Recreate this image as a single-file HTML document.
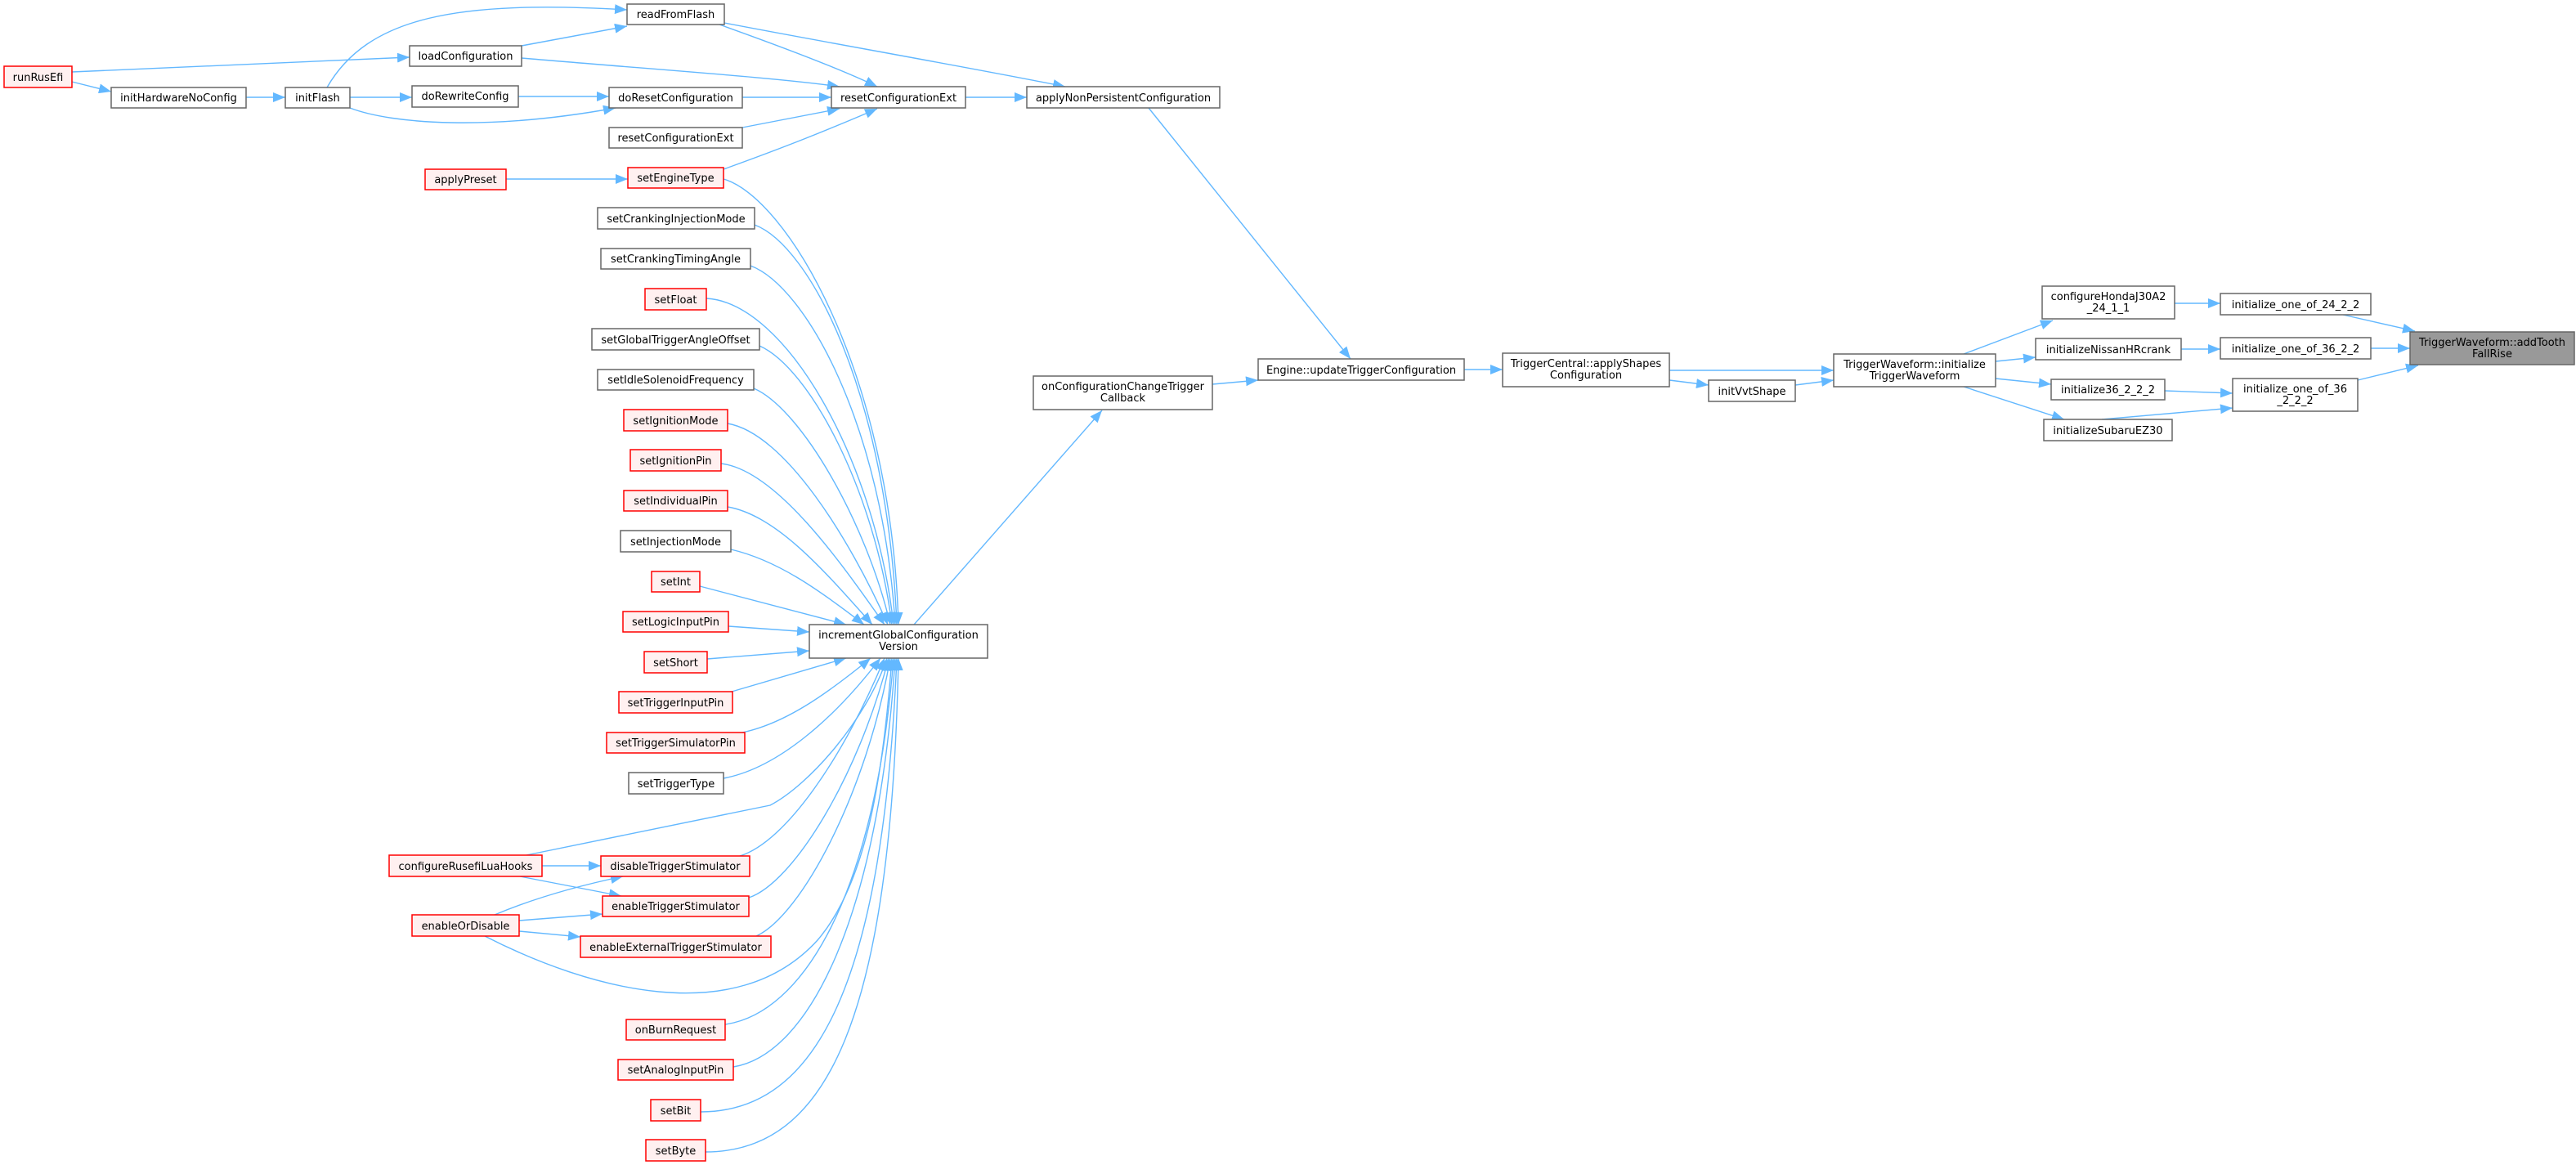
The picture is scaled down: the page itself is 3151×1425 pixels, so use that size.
<!DOCTYPE html>
<html><head><meta charset="utf-8"><style>
html,body{margin:0;padding:0;background:#fff;}
svg{display:block;}
text{font-family:"DejaVu Sans","Liberation Sans",sans-serif;font-size:13px;fill:#000;text-anchor:middle;}
.g{fill:#fff;stroke:#666;stroke-width:1.5;}
.r{fill:#fff0f0;stroke:#ff0000;stroke-width:1.5;}
.k{fill:#999;stroke:#666;stroke-width:1.5;}
.e{fill:none;stroke:#63b8ff;stroke-width:1.4;marker-end:url(#a);}
</style></head><body>
<svg width="3151" height="1425" viewBox="0 0 3151 1425" xmlns="http://www.w3.org/2000/svg">
<defs><marker id="a" markerUnits="userSpaceOnUse" markerWidth="16" markerHeight="12" refX="15" refY="6" orient="auto"><path d="M0,0 L15,6 L0,12 z" fill="#63b8ff"/></marker></defs>
<g>
<path class="e" d="M88,88 L501,70"/>
<path class="e" d="M88,100 L136,112"/>
<path class="e" d="M301,119 L349,119"/>
<path class="e" d="M400,107 C450,20 560,0 767,12"/>
<path class="e" d="M428,119 L504,119"/>
<path class="e" d="M428,132 C480,152 600,160 753,132"/>
<path class="e" d="M638,56 L767,32"/>
<path class="e" d="M634,118 L745,118"/>
<path class="e" d="M638,71 C800,85 950,95 1027,106"/>
<path class="e" d="M880,30 C950,55 1030,85 1073,106"/>
<path class="e" d="M886,28 C1000,50 1200,85 1303,106"/>
<path class="e" d="M908,119 L1017,119"/>
<path class="e" d="M908,156 L1027,133"/>
<path class="e" d="M885,207 C960,180 1010,160 1073,133"/>
<path class="e" d="M619,219 L768,219"/>
<path class="e" d="M1181,119 L1256,119"/>
<path class="e" d="M1405,132 L1652,439"/>
<path class="e" d="M1483,470 L1539,465"/>
<path class="e" d="M1791,452 L1838,452"/>
<path class="e" d="M2042,453 L2243,453"/>
<path class="e" d="M2042,465 L2090,471"/>
<path class="e" d="M2196,471 L2243,465"/>
<path class="e" d="M1118,764 L1348,502"/>
<path class="e" d="M2402,433 L2511,392"/>
<path class="e" d="M2441,442 L2490,437"/>
<path class="e" d="M2441,463 L2509,470"/>
<path class="e" d="M2402,473 L2525,513"/>
<path class="e" d="M2660,371 L2716,371"/>
<path class="e" d="M2668,427 L2716,427"/>
<path class="e" d="M2648,478 L2731,481"/>
<path class="e" d="M2571,513 L2731,499"/>
<path class="e" d="M2866,385 L2954,405"/>
<path class="e" d="M2900,426 L2948,426"/>
<path class="e" d="M2884,465 L2958,447"/>
<path class="e" d="M663,1059 L735,1059"/>
<path class="e" d="M636,1072 L760,1096"/>
<path class="e" d="M605,1119 C650,1100 700,1085 762,1072"/>
<path class="e" d="M635,1126 L737,1118"/>
<path class="e" d="M635,1139 L710,1146"/>
<!-- into incrementGlobalConfigurationVersion top -->
<path class="e" d="M885,219 C960,240 1090,450 1099,764"/>
<path class="e" d="M923,275 C990,300 1085,480 1097,764"/>
<path class="e" d="M918,325 C985,350 1080,520 1095,764"/>
<path class="e" d="M864,365 C960,370 1070,560 1093,764"/>
<path class="e" d="M929,423 C990,450 1070,600 1091,764"/>
<path class="e" d="M922,475 C980,500 1060,640 1089,764"/>
<path class="e" d="M890,518 C960,530 1040,660 1086,764"/>
<path class="e" d="M882,567 C950,575 1030,690 1082,764"/>
<path class="e" d="M890,620 C950,630 1010,700 1067,764"/>
<path class="e" d="M894,672 C950,685 1000,720 1057,764"/>
<path class="e" d="M856,717 L1035,764"/>
<path class="e" d="M891,766 L990,773"/>
<path class="e" d="M865,806 L990,796"/>
<!-- bottom -->
<path class="e" d="M895,846 L1035,805"/>
<path class="e" d="M908,896 C960,885 1010,850 1065,805"/>
<path class="e" d="M885,952 C950,940 1020,880 1077,805"/>
<path class="e" d="M905,1047 C960,1030 1030,930 1082,805"/>
<path class="e" d="M639,1047 L942,985 C990,960 1060,880 1085,805"/>
<path class="e" d="M916,1098 C970,1080 1050,950 1087,805"/>
<path class="e" d="M925,1145 C980,1120 1060,970 1089,805"/>
<path class="e" d="M593,1145 C720,1210 900,1260 1000,1150 C1060,1080 1080,950 1091,805"/>
<path class="e" d="M887,1253 C980,1240 1070,1100 1093,805"/>
<path class="e" d="M897,1305 C990,1290 1075,1120 1095,805"/>
<path class="e" d="M857,1360 C1000,1360 1080,1200 1097,805"/>
<path class="e" d="M863,1409 C1010,1409 1090,1250 1099,805"/>
</g>
<g>
<rect class="r" x="5" y="81" width="83" height="26"/><text x="46.5" y="99">runRusEfi</text>
<rect class="g" x="136" y="107" width="165" height="25"/><text x="218.5" y="124">initHardwareNoConfig</text>
<rect class="g" x="349" y="107" width="79" height="25"/><text x="388.5" y="124">initFlash</text>
<rect class="g" x="501" y="56" width="137" height="25"/><text x="569.5" y="73">loadConfiguration</text>
<rect class="g" x="767" y="5" width="119" height="25"/><text x="826.5" y="22">readFromFlash</text>
<rect class="g" x="504" y="105" width="130" height="26"/><text x="569" y="122">doRewriteConfig</text>
<rect class="g" x="745" y="107" width="163" height="25"/><text x="826.5" y="124">doResetConfiguration</text>
<rect class="g" x="745" y="156" width="163" height="25"/><text x="826.5" y="173">resetConfigurationExt</text>
<rect class="r" x="520" y="207" width="99" height="25"/><text x="569.5" y="224">applyPreset</text>
<rect class="r" x="768" y="205" width="117" height="25"/><text x="826.5" y="222">setEngineType</text>
<rect class="g" x="731" y="254" width="192" height="26"/><text x="827" y="272">setCrankingInjectionMode</text>
<rect class="g" x="735" y="304" width="183" height="25"/><text x="826.5" y="321">setCrankingTimingAngle</text>
<rect class="r" x="789" y="353" width="75" height="26"/><text x="826.5" y="371">setFloat</text>
<rect class="g" x="724" y="402" width="205" height="26"/><text x="826.5" y="420">setGlobalTriggerAngleOffset</text>
<rect class="g" x="731" y="452" width="191" height="25"/><text x="826.5" y="469">setIdleSolenoidFrequency</text>
<rect class="r" x="763" y="501" width="127" height="26"/><text x="826.5" y="519">setIgnitionMode</text>
<rect class="r" x="771" y="550" width="111" height="26"/><text x="826.5" y="568">setIgnitionPin</text>
<rect class="r" x="763" y="600" width="127" height="25"/><text x="826.5" y="617">setIndividualPin</text>
<rect class="g" x="759" y="649" width="135" height="26"/><text x="826.5" y="667">setInjectionMode</text>
<rect class="r" x="797" y="699" width="59" height="25"/><text x="826.5" y="716">setInt</text>
<rect class="r" x="762" y="748" width="129" height="25"/><text x="826.5" y="765">setLogicInputPin</text>
<rect class="r" x="788" y="797" width="77" height="26"/><text x="826.5" y="815">setShort</text>
<rect class="r" x="757" y="846" width="139" height="26"/><text x="826.5" y="864">setTriggerInputPin</text>
<rect class="r" x="742" y="896" width="169" height="25"/><text x="826.5" y="913">setTriggerSimulatorPin</text>
<rect class="g" x="769" y="945" width="116" height="26"/><text x="827" y="963">setTriggerType</text>
<rect class="r" x="735" y="1047" width="182" height="25"/><text x="826" y="1064">disableTriggerStimulator</text>
<rect class="r" x="737" y="1096" width="179" height="25"/><text x="826.5" y="1113">enableTriggerStimulator</text>
<rect class="r" x="710" y="1145" width="233" height="26"/><text x="826.5" y="1163">enableExternalTriggerStimulator</text>
<rect class="r" x="766" y="1247" width="121" height="25"/><text x="826.5" y="1264">onBurnRequest</text>
<rect class="r" x="756" y="1296" width="141" height="25"/><text x="826.5" y="1313">setAnalogInputPin</text>
<rect class="r" x="796" y="1345" width="61" height="26"/><text x="826.5" y="1363">setBit</text>
<rect class="r" x="790" y="1394" width="73" height="26"/><text x="826.5" y="1412">setByte</text>
<rect class="r" x="476" y="1046" width="187" height="26"/><text x="569.5" y="1064">configureRusefiLuaHooks</text>
<rect class="r" x="504" y="1119" width="131" height="26"/><text x="569.5" y="1137">enableOrDisable</text>
<rect class="g" x="990" y="764" width="218" height="41"/><text x="1099" y="781">incrementGlobalConfiguration</text><text x="1099" y="795">Version</text>
<rect class="g" x="1017" y="106" width="164" height="26"/><text x="1099" y="124">resetConfigurationExt</text>
<rect class="g" x="1256" y="106" width="236" height="26"/><text x="1374" y="124">applyNonPersistentConfiguration</text>
<rect class="g" x="1264" y="460" width="219" height="41"/><text x="1373.5" y="477">onConfigurationChangeTrigger</text><text x="1373.5" y="491">Callback</text>
<rect class="g" x="1539" y="439" width="252" height="26"/><text x="1665" y="457">Engine::updateTriggerConfiguration</text>
<rect class="g" x="1838" y="432" width="204" height="41"/><text x="1940" y="449">TriggerCentral::applyShapes</text><text x="1940" y="463">Configuration</text>
<rect class="g" x="2090" y="465" width="106" height="26"/><text x="2143" y="483">initVvtShape</text>
<rect class="g" x="2243" y="433" width="198" height="40"/><text x="2342" y="450">TriggerWaveform::initialize</text><text x="2342" y="464">TriggerWaveform</text>
<rect class="g" x="2498" y="350" width="162" height="40"/><text x="2579" y="367">configureHondaJ30A2</text><text x="2579" y="381">_24_1_1</text>
<rect class="g" x="2490" y="414" width="178" height="26"/><text x="2579" y="432">initializeNissanHRcrank</text>
<rect class="g" x="2509" y="464" width="139" height="25"/><text x="2578.5" y="481">initialize36_2_2_2</text>
<rect class="g" x="2500" y="513" width="157" height="26"/><text x="2578.5" y="531">initializeSubaruEZ30</text>
<rect class="g" x="2716" y="359" width="184" height="26"/><text x="2808" y="377">initialize_one_of_24_2_2</text>
<rect class="g" x="2716" y="413" width="184" height="26"/><text x="2808" y="431">initialize_one_of_36_2_2</text>
<rect class="g" x="2731" y="463" width="153" height="40"/><text x="2807.5" y="480">initialize_one_of_36</text><text x="2807.5" y="494">_2_2_2</text>
<rect class="k" x="2948" y="406" width="201" height="40"/><text x="3048.5" y="423">TriggerWaveform::addTooth</text><text x="3048.5" y="437">FallRise</text>
</g>
</svg>
</body></html>
